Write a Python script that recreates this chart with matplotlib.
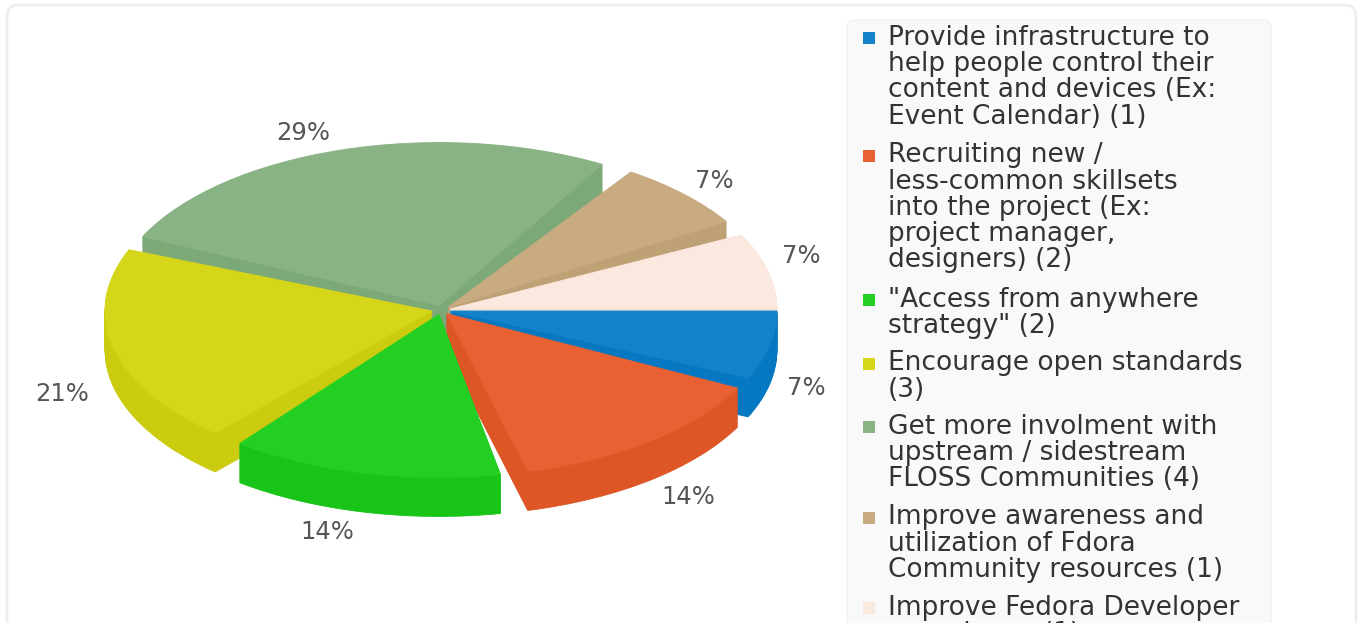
"""Exploded 3D-look pie with a clipped legend panel."""
import matplotlib
matplotlib.use("Agg")
import matplotlib.pyplot as plt
from matplotlib.patches import FancyBboxPatch, Rectangle

W, H = 1360, 623

labels = [
    "Provide infrastructure to\nhelp people control their\ncontent and devices (Ex:\nEvent Calendar) (1)",
    "Recruiting new /\nless-common skillsets\ninto the project (Ex:\nproject manager,\ndesigners) (2)",
    "\"Access from anywhere\nstrategy\" (2)",
    "Encourage open standards\n(3)",
    "Get more involment with\nupstream / sidestream\nFLOSS Communities (4)",
    "Improve awareness and\nutilization of Fdora\nCommunity resources (1)",
    "Improve Fedora Developer\nexperience (1)",
]
counts = [1, 2, 2, 3, 4, 1, 1]
top_colors = ["#1482c9", "#e96032", "#22cf22", "#d5d519", "#89b384", "#c9ab81", "#fbe8df"]
side_colors = ["#0678c2", "#de5526", "#17c417", "#cbcb10", "#7da878", "#bfa176", "#f0ddd2"]

# pie geometry, in pixels
cx, cy = 441, 310
rx, ry = 327, 163
depth = 39
explode = [0.028] * len(counts)
# the original's perspective pulls the slice edges apart: degrees added to each edge
edge_trim = [(1.5, 0), (1.5, -1.5), (1, -2), (3.6, -3), (8.6, 0.7), (6, 4.6), (0, 1.3)]

fig = plt.figure(figsize=(W / 100, H / 100), dpi=100)
fig.patch.set_facecolor("#ffffff")

bg = fig.add_axes([0, 0, 1, 1])
bg.set_xlim(0, W)
bg.set_ylim(H, 0)
bg.axis("off")

# card and legend panel
bg.add_patch(FancyBboxPatch((7, 5), 1349, 680, boxstyle="round,pad=0,rounding_size=12",
                            linewidth=2, edgecolor="#eeeeee", facecolor="white"))
bg.add_patch(FancyBboxPatch((847, 20), 424, 680, boxstyle="round,pad=0,rounding_size=8",
                            linewidth=1, edgecolor="#f2f2f2", facecolor="#f9f9f9"))

# legend entries, stacked by line count
y = 37
for label, color in zip(labels, top_colors):
    bg.add_patch(Rectangle((863, y - 5), 12, 12, facecolor=color, edgecolor="none"))
    bg.text(888, y - 12, label, fontsize=19, color="#333333", va="top", ha="left",
            linespacing=1.01)
    y += 27 * (label.count("\n") + 1) + 9.5

# percent labels
total = sum(counts)
label_pos = [(806, 388), (688, 497), (327, 532), (62, 394), (303, 133), (714, 181), (801, 256)]
for c, (lx, ly) in zip(counts, label_pos):
    bg.text(lx, ly, f"{100 * c / total:.0f}%", fontsize=17.5, color="#555555",
            ha="center", va="center")

# pie axes: one data unit is one radius, squashed to an ellipse
pie_ax = fig.add_axes([0, 0, 1, 1])
pie_ax.patch.set_alpha(0)


def layer(offset, colors):
    wedges, _ = pie_ax.pie(counts, colors=colors, explode=explode, startangle=0,
                           counterclock=False, center=(0, -offset / ry), radius=1)
    for wedge, (low, high) in zip(wedges, edge_trim):
        wedge.set_theta1(wedge.theta1 + low)
        wedge.set_theta2(wedge.theta2 + high)
        wedge.set_edgecolor(wedge.get_facecolor())
        wedge.set_linewidth(0.6)


for offset in range(depth, 0, -1):
    layer(offset, side_colors)
layer(0, top_colors)

pie_ax.set_aspect("auto")
pie_ax.set_xlim(-cx / rx, (W - cx) / rx)
pie_ax.set_ylim((cy - H) / ry, cy / ry)
pie_ax.axis("off")

fig.savefig("out.png", dpi=100, facecolor="white")
